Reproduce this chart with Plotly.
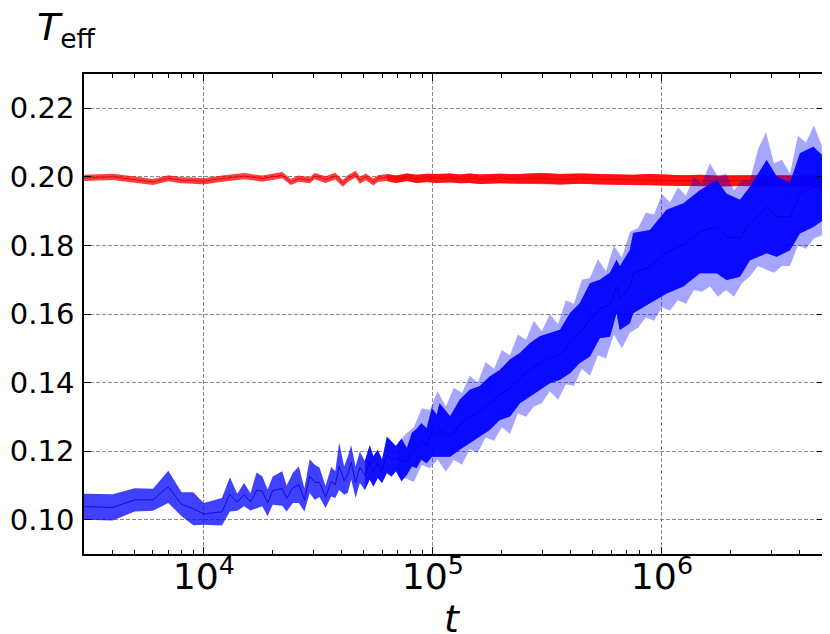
import numpy as np
import plotly.graph_objects as go

# red run: mean and half-width of the band
t_red = [3000, 4000, 5000, 6000, 7000, 8000, 9000, 10000, 12000, 15000,
         18000, 20000, 22000, 24000, 26000, 29000, 30500, 34000, 37500, 40500,
         42500, 46000, 48000, 51000, 55000, 57500, 63000, 69000, 77000, 85000,
         94000, 104000, 119000, 131000, 145000, 160000, 196000, 240000, 293000, 359000,
         438000, 536000, 655000, 749000, 886000, 1048000, 1239000, 1465000, 1733000, 2191000,
         2866000, 3622000, 4579000, 5063000]
red_mean = [0.1997, 0.2000, 0.1992, 0.1985, 0.1996, 0.1990, 0.1989, 0.1987, 0.1995, 0.2002,
            0.1995, 0.2000, 0.2005, 0.1985, 0.1995, 0.1990, 0.2002, 0.1992, 0.2002, 0.1981,
            0.1995, 0.2008, 0.1990, 0.2000, 0.1985, 0.1995, 0.1998, 0.1993, 0.1999, 0.1994,
            0.1997, 0.1995, 0.1997, 0.1994, 0.1996, 0.1993, 0.1995, 0.1994, 0.1996, 0.1993,
            0.1995, 0.1993, 0.1992, 0.1991, 0.1992, 0.1990, 0.1989, 0.1990, 0.1988, 0.1989,
            0.1988, 0.1989, 0.1988, 0.1988]
red_err = [0.0009, 0.0009, 0.0009, 0.0009, 0.0009, 0.0009, 0.0009, 0.0009, 0.0009, 0.0009,
           0.0009, 0.0009, 0.0009, 0.0009, 0.0009, 0.0009, 0.0009, 0.0010, 0.0010, 0.0010,
           0.0010, 0.0010, 0.0010, 0.0010, 0.0010, 0.0010, 0.0010, 0.0011, 0.0011, 0.0012,
           0.0012, 0.0013, 0.0013, 0.0013, 0.0014, 0.0014, 0.0014, 0.0014, 0.0015, 0.0015,
           0.0015, 0.0015, 0.0015, 0.0015, 0.0016, 0.0016, 0.0016, 0.0016, 0.0016, 0.0016,
           0.0016, 0.0016, 0.0016, 0.0016]

# blue run: mean and half-width of the band
t_blue = [3000, 4000, 5000, 6000, 7000, 8000, 9000, 10000, 12000, 13000,
          14000, 15000, 16000, 17000, 18000, 19000, 20000, 22000, 23000, 24500,
          26000, 27500, 29000, 30500, 32000, 34000, 36000, 37500, 39000, 41000,
          42500, 44000, 46000, 48000, 50500, 53000, 55000, 57500, 60000, 63000,
          66000, 69000, 73000, 77000, 81000, 85000, 89000, 94000, 99000, 104000,
          107000, 119000, 131000, 145000, 160000, 177000, 196000, 217000, 240000, 265000,
          293000, 324000, 359000, 397000, 438000, 485000, 536000, 593000, 634000, 655000,
          725000, 749000, 886000, 1048000, 1239000, 1465000, 1733000, 1916000, 2191000, 2423000,
          2866000, 3169000, 3622000, 4005000, 4579000, 5063000]
blue_mean = [0.1038, 0.1036, 0.1058, 0.1058, 0.1096, 0.1045, 0.1032, 0.1017, 0.1023, 0.1074,
             0.1051, 0.1073, 0.1052, 0.1086, 0.1083, 0.1049, 0.1085, 0.1091, 0.1062, 0.1093,
             0.1102, 0.1058, 0.1127, 0.1109, 0.1109, 0.1066, 0.1111, 0.1102, 0.1156, 0.1114,
             0.1131, 0.1167, 0.1109, 0.1153, 0.1129, 0.1167, 0.1141, 0.1163, 0.1141, 0.1189,
             0.1177, 0.1178, 0.1174, 0.1170, 0.1204, 0.1208, 0.1228, 0.1216, 0.1255, 0.1245,
             0.1262, 0.1243, 0.1277, 0.1301, 0.1316, 0.1340, 0.1364, 0.1384, 0.1413, 0.1437,
             0.1457, 0.1471, 0.1481, 0.1515, 0.1544, 0.1583, 0.1615, 0.1627, 0.1680, 0.1646,
             0.1680, 0.1719, 0.1738, 0.1782, 0.1801, 0.1840, 0.1855, 0.1825, 0.1821, 0.1864,
             0.1913, 0.1884, 0.1884, 0.1952, 0.1971, 0.1967]
blue_err = [0.0038, 0.0038, 0.0034, 0.0032, 0.0047, 0.0035, 0.0048, 0.0032, 0.0040, 0.0050,
            0.0025, 0.0034, 0.0025, 0.0052, 0.0044, 0.0039, 0.0041, 0.0050, 0.0038, 0.0044,
            0.0053, 0.0034, 0.0049, 0.0051, 0.0043, 0.0032, 0.0043, 0.0039, 0.0069, 0.0041,
            0.0053, 0.0050, 0.0046, 0.0046, 0.0042, 0.0050, 0.0044, 0.0041, 0.0034, 0.0053,
            0.0051, 0.0037, 0.0062, 0.0039, 0.0049, 0.0057, 0.0053, 0.0051, 0.0071, 0.0061,
            0.0078, 0.0059, 0.0073, 0.0078, 0.0073, 0.0078, 0.0073, 0.0083, 0.0073, 0.0078,
            0.0078, 0.0073, 0.0073, 0.0088, 0.0087, 0.0107, 0.0085, 0.0093, 0.0078, 0.0093,
            0.0107, 0.0117, 0.0107, 0.0122, 0.0121, 0.0121, 0.0136, 0.0126, 0.0112, 0.0107,
            0.0136, 0.0117, 0.0098, 0.0117, 0.0117, 0.0093]

# outermost excursions of the blue run (the light spikes at late times)
t_spike = [70400, 76200, 82600, 89500, 97000, 105000, 114000, 123500, 134000, 145000,
           157000, 170000, 185000, 200000, 217000, 235000, 255000, 276000, 299000, 324000,
           352000, 381000, 413000, 447000, 485000, 526000, 570000, 617000, 669000, 725000,
           786000, 851000, 923000, 1000000, 1084000, 1175000, 1273000, 1380000, 1495000, 1621000,
           1756000, 1904000, 2063000, 2236000, 2423000, 2626000, 2846000, 3085000, 3343000, 3623000,
           3926000, 4255000, 4611000, 4997000]
spike_hi = [0.1225, 0.1250, 0.1270, 0.1325, 0.1320, 0.1375, 0.1330, 0.1385, 0.1370, 0.1420,
            0.1400, 0.1460, 0.1440, 0.1495, 0.1480, 0.1540, 0.1525, 0.1580, 0.1550, 0.1600,
            0.1570, 0.1640, 0.1630, 0.1700, 0.1705, 0.1760, 0.1725, 0.1800, 0.1765, 0.1840,
            0.1850, 0.1895, 0.1890, 0.1950, 0.1925, 0.1970, 0.1945, 0.2000, 0.1980, 0.2040,
            0.2000, 0.2010, 0.1960, 0.1990, 0.1990, 0.2080, 0.2130, 0.2040, 0.2050, 0.2010,
            0.2120, 0.2100, 0.2150, 0.2090]
spike_lo = [0.1125, 0.1120, 0.1110, 0.1160, 0.1150, 0.1175, 0.1140, 0.1175, 0.1160, 0.1205,
            0.1195, 0.1240, 0.1230, 0.1270, 0.1250, 0.1310, 0.1300, 0.1330, 0.1340, 0.1375,
            0.1350, 0.1395, 0.1390, 0.1440, 0.1420, 0.1480, 0.1470, 0.1540, 0.1500, 0.1545,
            0.1560, 0.1590, 0.1580, 0.1620, 0.1610, 0.1640, 0.1630, 0.1670, 0.1665, 0.1680,
            0.1650, 0.1670, 0.1650, 0.1690, 0.1710, 0.1740, 0.1730, 0.1720, 0.1740, 0.1740,
            0.1800, 0.1790, 0.1820, 0.1830]

y_ticks = [0.10, 0.12, 0.14, 0.16, 0.18, 0.20, 0.22]

FONT = "DejaVu Sans"


def fill_between(fig, t, lo, hi, color):
    fig.add_trace(go.Scatter(x=t, y=hi, mode="lines", line=dict(width=0),
                             showlegend=False, hoverinfo="skip"))
    fig.add_trace(go.Scatter(x=t, y=lo, mode="lines", fill="tonexty", fillcolor=color,
                             line=dict(width=0), showlegend=False, hoverinfo="skip"))


def add_band(fig, t, mean, err, fill, line_color, dense_from=None):
    t = np.array(t, dtype=float)
    mean = np.array(mean)
    err = np.array(err)
    fill_between(fig, t, mean - err, mean + err, fill)
    if dense_from is not None:
        # many overlapping samples make the late part look solid
        m = t >= dense_from
        fill_between(fig, t[m], (mean - err)[m], (mean + err)[m], fill)
    fig.add_trace(go.Scatter(x=t, y=mean, mode="lines",
                             line=dict(color=line_color, width=1),
                             showlegend=False, hoverinfo="skip"))


fig = go.Figure()
add_band(fig, t_red, red_mean, red_err, "rgba(255,0,0,0.75)", "rgba(220,0,0,0.8)", dense_from=60000)
fill_between(fig, t_spike, spike_lo, spike_hi, "rgba(0,0,255,0.35)")
add_band(fig, t_blue, blue_mean, blue_err, "rgba(0,0,255,0.75)", "rgba(0,0,200,0.8)", dense_from=50000)

axis_common = dict(
    showline=True, linecolor="black", linewidth=1.5, mirror="allticks",
    ticks="inside", ticklen=7, tickwidth=1.2, tickcolor="black",
    showgrid=True, gridcolor="#8a8a8a", griddash="4px,2px", gridwidth=1,
    zeroline=False, automargin=False,
    tickfont=dict(family=FONT, size=29, color="black"),
)

fig.update_xaxes(
    type="log", range=[np.log10(3000), np.log10(5.1e6)],
    dtick=1, exponentformat="power", ticklabelstandoff=-9,
    minor=dict(ticks="inside", ticklen=4, tickwidth=1, tickcolor="black", showgrid=False),
    **axis_common,
)
fig.update_yaxes(
    range=[0.09, 0.23], tickvals=y_ticks, tickformat=".2f", ticklabelstandoff=2,
    **axis_common,
)

fig.add_annotation(text="<i>T</i><sub>eff</sub>", xref="paper", yref="paper",
                   x=-0.066, y=1.147, xanchor="left", yanchor="top", showarrow=False,
                   font=dict(family=FONT, size=38, color="black"))
fig.add_annotation(text="<i>t</i>", xref="paper", yref="paper",
                   x=0.4986, y=-0.135, xanchor="center", yanchor="middle", showarrow=False,
                   font=dict(family=FONT, size=38, color="black"))

# the page adds an 8 px body margin, so the figure is a little smaller than the window
fig.update_layout(
    width=822, height=626,
    margin=dict(l=76, r=6, t=66, b=80),
    plot_bgcolor="white", paper_bgcolor="white",
    showlegend=False,
)

fig.write_html("out.html")
